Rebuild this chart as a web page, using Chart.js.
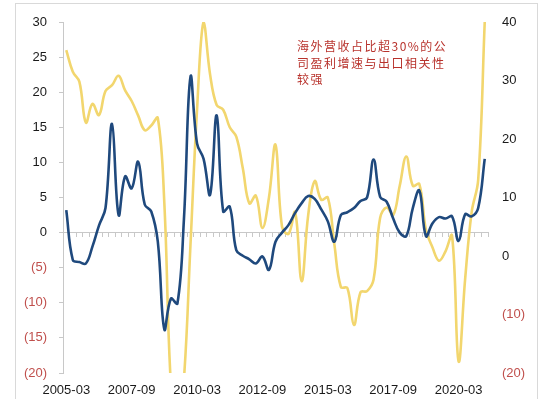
<!DOCTYPE html>
<html>
<head>
<meta charset="utf-8">
<script src="https://cdn.jsdelivr.net/npm/chart.js@4.4.1/dist/chart.umd.min.js"></script>
<style>
  html, body { margin: 0; padding: 0; background: #fff; }
  #wrap { position: relative; width: 542px; height: 399px; overflow: hidden; }
  #frame { position: absolute; left: 15px; top: 3px; width: 521px; height: 420px; border: 1px solid #d9d9d9; }
  #note {
    position: absolute; left: 297px; top: 38px; width: 160px;
    font-family: "Noto Sans CJK SC", sans-serif; font-size: 12px; line-height: 16.7px;
    letter-spacing: 1.5px; color: #b8322c;
  }
  canvas { position: absolute; left: 0; top: 0; }
</style>
</head>
<body>
<div id="wrap">
  <div id="frame"></div>
  <canvas id="chart" width="542" height="399"></canvas>
  <div id="note">海外营收占比超30%的公司盈利增速与出口相关性较强</div>
</div>
<script>
// 季度数据 2005-03 ... 2021-03
const quarters = []
for (let y = 2005; y <= 2021; y++) {
  for (const m of ['03', '06', '09', '12']) {
    if (y === 2021 && m !== '03') break
    quarters.push(y + '-' + m)
  }
}

// 海外营收占比超30%公司盈利增速（左轴）
const profitGrowth = [
  3.2, -3.9, -4.2, -4.4, -2.0, 1.0, 3.5, 15.5, 2.5, 8.0,
  6.3, 10.1, 4.0, 3.0, -1.3, -13.8, -9.4, -10.1, 2.0, 22.2,
  12.7, 10.5, 5.4, 16.7, 3.0, 3.7, -2.5, -3.3, -3.8, -4.4,
  -3.4, -5.3, -1.3, 0.0, 1.1, 2.8, 4.2, 5.2, 4.8, 3.3,
  1.6, -1.3, 2.5, 2.9, 3.5, 4.5, 5.0, 10.4, 5.1, 4.4,
  2.0, 0.0, -0.5, 3.5, 6.0, -0.5, 1.3, 2.2, 2.0, 2.3,
  -1.2, 2.6, 2.3, 3.5, 10.5
]

// 出口增速（右轴）
const exportGrowth = [
  35.2, 31.5, 29.8, 22.8, 26.0, 24.1, 28.2, 29.2, 30.8, 28.3,
  26.5, 24.0, 21.5, 22.3, 23.6, 9.0, -22.0, -30.0, -21.0, 2.0,
  25.0, 40.0, 31.0, 25.8, 25.0, 22.0, 20.4, 15.0, 9.0, 10.3,
  4.8, 10.0, 19.0, 5.0, 3.8, 7.5, -4.3, 7.0, 12.8, 9.6,
  10.0, 2.0, -5.3, -5.5, -11.8, -6.2, -6.0, -4.0, 6.5, 8.3,
  7.0, 12.0, 17.0, 12.0, 12.3, 4.5, 1.5, -0.8, 0.8, 3.5,
  -18.0, -4.0, 7.5, 13.0, 40.0
]

const leftTicks = { min: -20, max: 30, step: 5 }
const rightTicks = { min: -20, max: 40, step: 10 }

const RED = '#c0504d'
const INK = '#1a1a1a'
const AXIS = '#c8c8c8'
const font = { family: 'Liberation Sans, Arial, sans-serif', size: 13 }

const fmt = (v) => (v < 0 ? '(' + (-v) + ')' : String(v))
const tickColor = (ctx) => (ctx.tick && ctx.tick.value < 0 ? RED : INK)

const ctx = document.getElementById('chart')
const chart = new Chart(ctx, {
  type: 'line',
  data: {
    labels: quarters,
    datasets: [
      {
        label: '盈利增速',
        data: profitGrowth,
        borderColor: '#1f497d',
        borderWidth: 2.6,
        pointRadius: 0,
        tension: 0.4,
        yAxisID: 'y',
        xAxisID: 'x',
      },
      {
        label: '出口增速',
        data: exportGrowth,
        borderColor: '#f2d66e',
        borderWidth: 2.6,
        pointRadius: 0,
        tension: 0.4,
        yAxisID: 'y1',
        xAxisID: 'x',
      },
    ],
  },
  options: {
    responsive: false,
    animation: false,
    layout: { padding: { top: 22, left: 0, right: 0, bottom: 0 } },
    plugins: { legend: { display: false }, tooltip: { enabled: false } },
    scales: {
      x: {
        type: 'category',
        position: { y: 0 },
        offset: true,
        ticks: { display: false },
        grid: { offset: true, drawOnChartArea: false, color: AXIS, tickLength: 4 },
        border: { color: AXIS, width: 1 },
      },
      x2: {
        type: 'category',
        position: 'bottom',
        offset: true,
        labels: quarters,
        grid: { display: false },
        border: { display: false },
        ticks: {
          autoSkip: false,
          maxRotation: 0,
          padding: 2,
          color: INK,
          font: font,
          callback: (v, i) => (i % 10 === 0 ? quarters[i] : ''),
        },
        afterFit: (s) => { s.height = 26 },
      },
      y: {
        position: 'left',
        min: leftTicks.min,
        max: leftTicks.max,
        ticks: { stepSize: leftTicks.step, color: tickColor, font: font, padding: 12, callback: fmt },
        grid: { drawOnChartArea: false, color: AXIS, tickLength: 4 },
        border: { color: AXIS, width: 1 },
        afterFit: (s) => { s.width = 63 },
      },
      y1: {
        position: 'right',
        min: rightTicks.min,
        max: rightTicks.max,
        ticks: { stepSize: rightTicks.step, color: tickColor, font: font, padding: 6, callback: fmt },
        grid: { display: false },
        border: { display: false },
        afterFit: (s) => { s.width = 54 },
      },
    },
  },
})
</script>
</body>
</html>
